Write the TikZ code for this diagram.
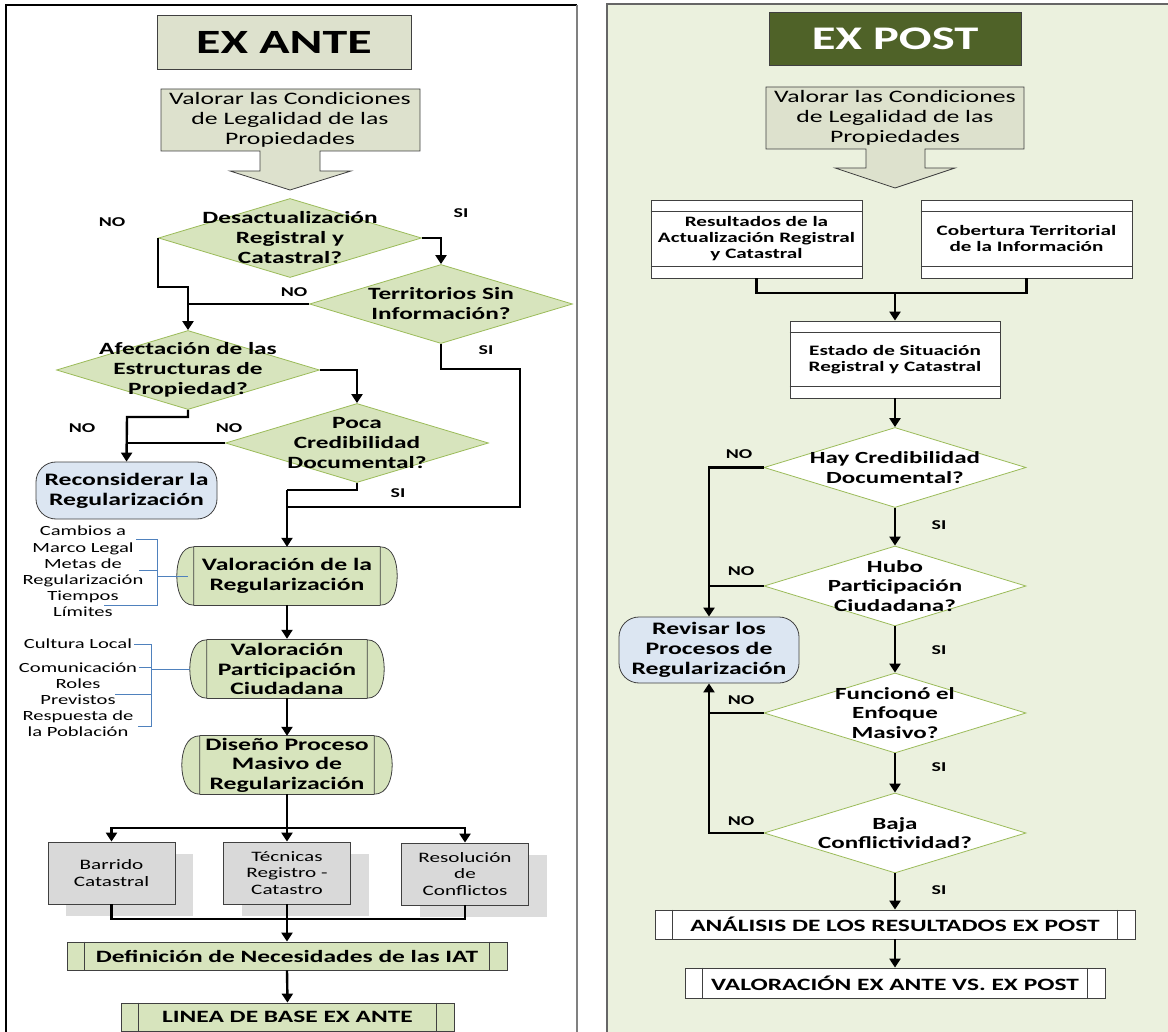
\documentclass[tikz,border=0pt]{standalone}
\usepackage{fontspec}
\setmainfont{Carlito}[FakeStretch=1.47]
\usetikzlibrary{arrows.meta,shapes.geometric,calc}
\definecolor{hdrfill}{HTML}{DDE1CD}
\definecolor{dfill}{HTML}{D7E4BD}
\definecolor{dline}{HTML}{9BBB59}
\definecolor{pfill}{HTML}{EBF1DE}
\definecolor{bfill}{HTML}{DCE6F2}
\definecolor{gfill}{HTML}{D9D9D9}
\definecolor{shfill}{HTML}{DCDCDC}
\definecolor{olive}{HTML}{4F6228}
\definecolor{brk}{HTML}{4F81BD}
\definecolor{edge}{HTML}{404040}
\tikzset{
  conn/.style={line width=2.4pt, black},
  arr/.style={conn, -{Triangle[width=11pt,length=9pt]}},
  brkline/.style={draw=brk, line width=0.9pt},
  dia/.style={diamond, draw=dline, fill=dfill, line width=0.8pt, minimum width=263pt, minimum height=79pt, inner sep=0pt},
  diawhite/.style={dia, fill=white, minimum width=262pt, minimum height=80pt},
  diatxt/.style={font=\fontsize{17.2}{20}\selectfont\bfseries, align=center, inner sep=0pt},
  diatxtr/.style={font=\fontsize{17}{19.6}\selectfont\bfseries, align=center, inner sep=0pt},
  lbl/.style={font=\fontsize{13.5}{14}\selectfont\bfseries, inner sep=0pt},
  procbox/.style={fill=dfill, draw=none, font=\fontsize{17.5}{19.5}\selectfont\bfseries, align=center, inner sep=0pt},
  termbox/.style={rectangle, rounded corners=20pt, draw=edge, fill=bfill, line width=0.8pt, font=\fontsize{17.5}{20}\selectfont\bfseries, align=center, inner sep=0pt},
  gbox/.style={draw=edge, fill=gfill, line width=0.8pt, font=\fontsize{14.4}{16.5}\selectfont, align=center, inner sep=0pt, minimum width=127pt, minimum height=62pt},
  shbox/.style={fill=shfill, draw=none, minimum width=127pt, minimum height=62pt, inner sep=0pt},
  ppbox/.style={draw=edge, line width=0.8pt, font=\fontsize{17.3}{18}\selectfont\bfseries, inner sep=0pt, minimum height=28pt},
  hbox/.style={draw=edge, fill=white, line width=0.8pt, font=\fontsize{14.4}{16}\selectfont\bfseries, align=center, inner sep=0pt},
  anno/.style={font=\fontsize{14}{16.2}\selectfont, align=center, inner sep=0pt},
  valtxt/.style={font=\fontsize{17.5}{20}\selectfont, align=center, inner sep=0pt},
}
\begin{document}
\begin{tikzpicture}[x=1pt,y=-1pt]
\useasboundingbox (0,0) rectangle (1168,1032);
% panels
\fill[white] (0,0) rectangle (1168,1032);
\fill[pfill] (607,4) rectangle (1168,1032);
\draw[black, line width=1.4pt] (6,1032) -- (6,5) -- (577,5);
\draw[gray, line width=1.2pt] (577,5) -- (577,1032);
\draw[edge!80, line width=1.6pt] (607,1032) -- (607,4) -- (1168,4);

% ===== EX ANTE =====
\node[draw=edge, fill=hdrfill, line width=0.8pt, minimum width=254pt, minimum height=54pt, inner sep=0pt,
      font=\fontsize{34}{36}\selectfont\bfseries] (hA) at (284,42) {EX ANTE};
\filldraw[fill=hdrfill, draw=edge, line width=0.8pt]
  (161,89) -- (420,89) -- (420,151) -- (320,151) -- (320,171) -- (351,171) -- (290,190)
  -- (230,171) -- (260,171) -- (260,151) -- (161,151) -- cycle;
\node[valtxt] (valA) at (290,120) {Valorar las Condiciones\\de Legalidad de las\\Propiedades};

\node[dia] (dA1) at (290,238) {};
\node[diatxt] (tA1) at (dA1) {Desactualización\\Registral y\\Catastral?};
\node[dia] (dA2) at (441,304) {};
\node[diatxt] (tA2) at (dA2) {Territorios Sin\\Información?};
\node[dia] (dA3) at (188,370) {};
\node[diatxt] (tA3) at (dA3) {Afectación de las\\Estructuras de\\Propiedad?};
\node[dia] (dA4) at (357,443) {};
\node[diatxt] (tA4) at (dA4) {Poca\\Credibilidad\\Documental?};

\node[termbox, minimum width=181pt, minimum height=57pt] (rec) at (126.5,490.5) {Reconsiderar la\\Regularización};

% curved process shapes
\node[procbox, minimum width=186pt, minimum height=58pt] (vr) at (287,576) {Valoración de la\\Regularización};
\node[procbox, minimum width=160pt, minimum height=58pt] (vpc) at (287,669) {Valoración\\Participación\\Ciudadana};
\node[procbox, minimum width=174pt, minimum height=58pt] (dp) at (287,765) {Diseño Proceso\\Masivo de\\Regularización};
\foreach \n/\b in {vr/17,vpc/17,dp/18}{
  \filldraw[fill=dfill, draw=edge, line width=0.8pt]
    (\n.north west) to[out=180,in=90] ($(\n.west)+(-\b,0)$) to[out=-90,in=180] (\n.south west) -- cycle;
  \filldraw[fill=dfill, draw=edge, line width=0.8pt]
    (\n.north east) to[out=0,in=90] ($(\n.east)+(\b,0)$) to[out=-90,in=0] (\n.south east) -- cycle;
  \draw[edge, line width=0.8pt] (\n.north west) -- (\n.north east) (\n.south west) -- (\n.south east);
}

% annotations
\node[anno] (an1) at (83,571.5) {Cambios a\\Marco Legal\\Metas de\\Regularización\\Tiempos\\Límites};
\coordinate (b1t) at (157,539);
\coordinate (b1b) at (157,605);
\coordinate (b1m) at (157,576);
\draw[brkline] (136,539) -- (b1t) -- (b1b) -- (104,605);
\draw[brkline] (139,570) -- (157,570);
\draw[brkline] (b1m) -- ($(vr.west)+(-6,0)$);

\node[anno] (an2) at (78,688) {Cultura Local\\[7pt]Comunicación\\Roles\\Previstos\\Respuesta de\\la Población};
\coordinate (b2t) at (151,644);
\coordinate (b2b) at (151,726);
\coordinate (b2m) at (151,669);
\draw[brkline] (134,644) -- (b2t) -- (b2b) -- (138,726);
\draw[brkline] (139,667) -- (151,667);
\draw[brkline] (115,694) -- (151,694);
\draw[brkline] (b2m) -- ($(vpc.west)+(-17,0)$);

% gray boxes
\node[shbox] (s1) at (129.5,885) {};
\node[shbox] (s2) at (305,885) {};
\node[shbox] (s3) at (483,886) {};
\node[gbox] (g1) at (111.5,873) {Barrido\\Catastral};
\node[gbox] (g2) at (287,873) {Técnicas\\Registro -\\Catastro};
\node[gbox] (g3) at (465,874) {Resolución\\de\\Conflictos};

\node[ppbox, fill=dfill, minimum width=440pt] (def) at (287,956) {Definición de Necesidades de las IAT};
\node[ppbox, fill=dfill, minimum width=333pt] (lin) at (287.5,1017) {LINEA DE BASE EX ANTE};

% ===== EX POST =====
\node[draw=edge, fill=olive, line width=0.8pt, minimum width=252pt, minimum height=53pt, inner sep=0pt,
      text=white, font=\fontsize{33}{36}\selectfont\bfseries] (hP) at (895,38.5) {EX POST};
\filldraw[fill=hdrfill, draw=edge, line width=0.8pt]
  (766,87) -- (1024,87) -- (1024,149) -- (925,149) -- (925,168) -- (955,168) -- (895,188)
  -- (835,168) -- (866,168) -- (866,149) -- (766,149) -- cycle;
\node[valtxt] (valP) at (895,118) {Valorar las Condiciones\\de Legalidad de las\\Propiedades};

\node[hbox, minimum width=211pt, minimum height=78pt] (res) at (756.5,239) {Resultados de la\\Actualización Registral\\y Catastral};
\node[hbox, minimum width=211pt, minimum height=78pt] (cob) at (1026.5,239) {Cobertura Territorial\\de la Información};
\node[hbox, minimum width=210pt, minimum height=77pt] (est) at (895,359.5) {Estado de Situación\\Registral y Catastral};

\node[diawhite] (dP1) at (895,467.5) {};
\node[diatxtr] (tP1) at (dP1) {Hay Credibilidad\\Documental?};
\node[diawhite] (dP2) at (895,586) {};
\node[diatxtr] (tP2) at (dP2) {Hubo\\Participación\\Ciudadana?};
\node[diawhite] (dP3) at (895,713) {};
\node[diatxtr] (tP3) at (dP3) {Funcionó el\\Enfoque\\Masivo?};
\node[diawhite] (dP4) at (895,833) {};
\node[diatxtr] (tP4) at (dP4) {Baja\\Conflictividad?};

\node[termbox, minimum width=180pt, minimum height=66pt] (rev) at (709,650) {Revisar los\\Procesos de\\Regularización};

\node[ppbox, fill=white, minimum width=480pt, minimum height=29pt] (ana) at (895,924.5) {ANÁLISIS DE LOS RESULTADOS EX POST};
\node[ppbox, fill=white, minimum width=420pt, minimum height=30pt] (vxp) at (895,983) {VALORACIÓN EX ANTE VS. EX POST};

% inner lines of predefined-process boxes
\foreach \n in {def,lin,ana,vxp}{
  \draw[edge, line width=0.8pt] ($(\n.north west)+(18,0)$) -- ($(\n.south west)+(18,0)$)
                                ($(\n.north east)+(-18,0)$) -- ($(\n.south east)+(-18,0)$);
}
% inner lines of white boxes
\foreach \n in {res,cob,est}{
  \draw[edge, line width=0.8pt] ($(\n.north west)+(0,12)$) -- ($(\n.north east)+(0,12)$)
                                ($(\n.south west)+(0,-12)$) -- ($(\n.south east)+(0,-12)$);
}

% ===== connectors left =====
\coordinate (k1) at (188,287);
\draw[arr] (dA1.west) |- (k1) -- (dA3.north);
\draw[conn] (dA2.west) -- (dA2.west -| k1);
\draw[arr] (dA1.east) -| (dA2.north);
\coordinate (k2) at (520,369);
\coordinate (k3) at (287,507);
\draw[conn] (dA2.south) |- (k2) |- (k3);
\coordinate (k4) at (287,490);
\draw[conn] (dA4.south) |- (k4);
\draw[arr] (k4) -- (vr.north);
\draw[arr] (dA3.east) -| (dA4.north);
\coordinate (k5) at (127,417);
\draw[arr] (dA3.south) |- (k5) -- (rec.north);
\draw[conn] (dA4.west) -- (dA4.west -| k5);
\draw[arr] (vr.south) -- ($(vpc.north)+(0,-1)$);
\draw[arr] (vpc.south) -- (dp.north);
\coordinate (k6) at (287,828);
\draw[conn] (dp.south) -- (k6);
\draw[arr] (k6) -| (g1.north);
\draw[arr] (k6) -| (g3.north);
\draw[arr] (k6) -- (g2.north);
\coordinate (k7) at (287,919);
\draw[conn] (g1.south) |- (k7) -| (g3.south);
\draw[arr] (g2.south) -- (def.north);
\draw[arr] (def.south) -- (lin.north);

% labels left
\node[lbl] (l1) at (112,222) {NO};
\node[lbl] (l2) at (461,213) {SI};
\node[lbl] (l3) at (294,292) {NO};
\node[lbl] (l4) at (486,350) {SI};
\node[lbl] (l5) at (82,428) {NO};
\node[lbl] (l6) at (229,428) {NO};
\node[lbl] (l7) at (398,493) {SI};

% ===== connectors right =====
\coordinate (m1) at (895,293);
\draw[conn] (res.south) |- (m1) -| (cob.south);
\draw[arr] (m1) -- (est.north);
\draw[arr] (est.south) -- (dP1.north);
\draw[arr] (dP1.south) -- (dP2.north);
\draw[arr] (dP2.south) -- (dP3.north);
\draw[arr] (dP3.south) -- (dP4.north);
\draw[arr] (dP4.south) -- (ana.north);
\draw[arr] (ana.south) -- (vxp.north);
\draw[arr] (dP1.west) -| (rev.north);
\draw[conn] (dP2.west) -- (dP2.west -| rev.north);
\draw[arr] (dP4.west) -| (rev.south);
\draw[conn] (dP3.west) -- (dP3.west -| rev.south);

% labels right
\node[lbl] (r1) at (739,454) {NO};
\node[lbl] (r2) at (939,525) {SI};
\node[lbl] (r3) at (741,571) {NO};
\node[lbl] (r4) at (939,650) {SI};
\node[lbl] (r5) at (741,700) {NO};
\node[lbl] (r6) at (939,767) {SI};
\node[lbl] (r7) at (741,821) {NO};
\node[lbl] (r8) at (939,890) {SI};
\end{tikzpicture}
\end{document}
